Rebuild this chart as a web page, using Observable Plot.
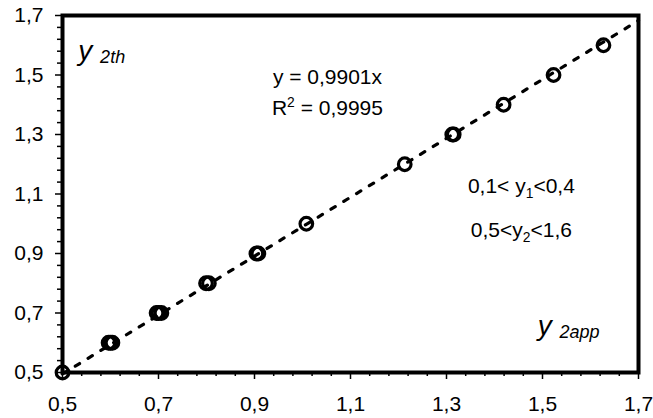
<!DOCTYPE html>
<html><head><meta charset="utf-8">
<script src="https://cdn.jsdelivr.net/npm/d3@7"></script>
<script src="https://cdn.jsdelivr.net/npm/@observablehq/plot@0.6"></script>
<style>
body{margin:0;background:#fff;}
svg{font-family:"Liberation Sans",Arial,sans-serif;}
</style>
</head><body><div id="chart"></div>
<script>
// data
const y2app = [0.500, 0.596, 0.600, 0.604, 0.696, 0.700, 0.706, 0.799, 0.805, 0.904, 0.908, 1.008, 1.213, 1.312, 1.315, 1.419, 1.523, 1.627];
const y2th  = [0.500, 0.600, 0.600, 0.600, 0.700, 0.700, 0.700, 0.800, 0.800, 0.900, 0.900, 1.000, 1.200, 1.300, 1.300, 1.400, 1.500, 1.600];
const majorTicks = [0.5, 0.7, 0.9, 1.1, 1.3, 1.5, 1.7];
const tickLabels = ["0,5", "0,7", "0,9", "1,1", "1,3", "1,5", "1,7"];
const minorTicks = [0.54, 0.58, 0.62, 0.66, 0.74, 0.78, 0.82, 0.86, 0.94, 0.98, 1.02, 1.06,
                    1.14, 1.18, 1.22, 1.26, 1.34, 1.38, 1.42, 1.46, 1.54, 1.58, 1.62, 1.66];
const trendSlope = 0.9901;
const trendX = [0.5, 1.7];
const eqLines = ["y = 0,9901x", "R^2 = 0,9995"];
const rangeLines = ["0,1< y_1<0,4", "0,5<y_2<1,6"];
const yLabel = "y _2th";
const xLabel = "y _2app";

const points = y2app.map((x, i) => ({x, y: y2th[i]}));
const trend = trendX.map(x => ({x, y: trendSlope * x}));
const fmt = d => tickLabels[majorTicks.indexOf(d)];

const plot = Plot.plot({
  width: 653, height: 418,
  marginLeft: 62, marginRight: 15, marginTop: 15, marginBottom: 46,
  x: {domain: [0.5, 1.7]},
  y: {domain: [0.5, 1.7]},
  style: {fontFamily: '"Liberation Sans", Arial, sans-serif', background: "#fff", color: "#000"},
  marks: [
    Plot.axisX(minorTicks, {tickSize: 4, strokeWidth: 1.5, tickFormat: () => "", label: null}),
    Plot.axisY(minorTicks, {tickSize: 5, strokeWidth: 1.5, tickFormat: () => "", label: null}),
    Plot.axisX(majorTicks, {tickSize: 7, strokeWidth: 1.5, tickPadding: 17, tickFormat: fmt, fontSize: 21, label: null}),
    Plot.axisY(majorTicks, {tickSize: 7, strokeWidth: 1.5, tickPadding: 12, tickFormat: fmt, fontSize: 21, label: null}),
    Plot.line(trend, {x: "x", y: "y", stroke: "#000", strokeWidth: 3.2, strokeDasharray: "5,10"}),
    Plot.dot(points, {x: "x", y: "y", r: 6.3, stroke: "#000", strokeWidth: 3.2, fill: "none"}),
    Plot.text(eqLines, {x: 1.052, y: [1.471, 1.367], text: d => d, fontSize: 21, textAnchor: "middle", lineAnchor: "bottom"}),
    Plot.text(rangeLines, {x: 1.456, y: [1.102, 0.954], text: d => d, fontSize: 21, textAnchor: "middle", lineAnchor: "bottom"}),
    Plot.text([yLabel], {x: 0.533, y: 1.55, text: d => d, fontSize: 28, fontStyle: "italic", textAnchor: "start", lineAnchor: "bottom"}),
    Plot.text([xLabel], {x: 1.49, y: 0.625, text: d => d, fontSize: 28, fontStyle: "italic", textAnchor: "start", lineAnchor: "bottom"}),
    Plot.frame({stroke: "#000", strokeWidth: 4})
  ]
});

// rich text: _ = subscript, ^ = superscript
d3.select(plot).selectAll("text").each(function() {
  const s = this.textContent;
  if (!/[_^]/.test(s)) return;
  const big = parseFloat(this.closest("g").getAttribute("font-size")) || 21;
  const isLabel = s.startsWith("y _");
  const small = isLabel ? 18 : big * 0.66;
  const parts = s.split(/([_^][0-9a-z]+)/).filter(p => p !== "");
  const el = d3.select(this);
  el.text(null);
  let pending = 0;
  for (const p of parts) {
    if (p[0] === "_" || p[0] === "^") {
      const sh = p[0] === "^" ? -8 : (isLabel ? 3 : 5);
      el.append("tspan").attr("font-size", small).attr("dy", sh).text(p.slice(1));
      pending = -sh;
    } else {
      const t = el.append("tspan").attr("font-size", big).text(p);
      if (pending) { t.attr("dy", pending); pending = 0; }
    }
  }
});
document.getElementById("chart").appendChild(plot);
</script>
</body></html>
